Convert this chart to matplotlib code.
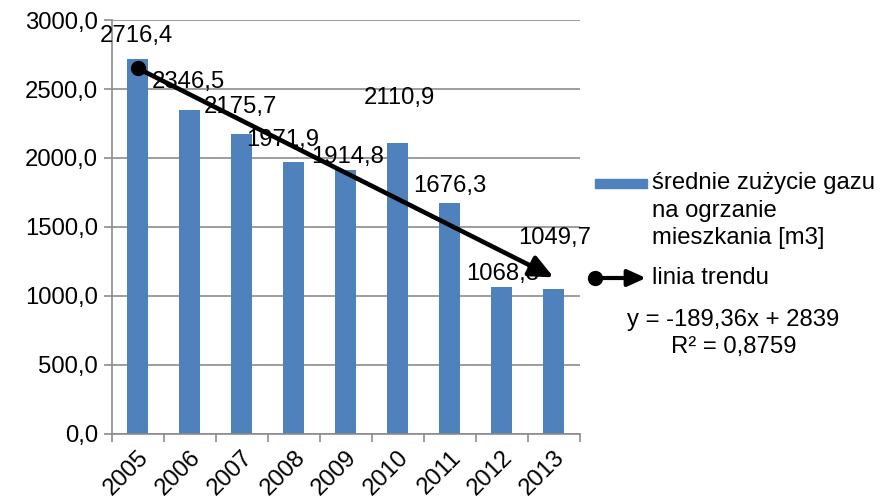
import matplotlib.pyplot as plt
from matplotlib.patches import Rectangle, FancyArrowPatch
from matplotlib.lines import Line2D

plt.rcParams['font.family'] = ['Liberation Sans', 'DejaVu Sans']

years = ['2005', '2006', '2007', '2008', '2009', '2010', '2011', '2012', '2013']
usage = [2716.4, 2346.5, 2175.7, 1971.9, 1914.8, 2110.9, 1676.3, 1068.3, 1049.7]
trend_slope = -189.36
trend_intercept = 2839
trend_r2 = 0.8759

# label offsets above bar tops (points), as placed in the original
label_dy = [17, 20, 19, 16, 9, 32, 12, 9, 37]
label_dx = [-1, -1, -1, -8, 1, 1, 0, 1, 1]

bar_color = '#4F81BD'
grid_color = '#8C8C8C'
fs = 17.2
arrow_style = '-|>,head_length=1.1,head_width=0.5'

fig = plt.figure(figsize=(8.81, 5.01), dpi=100)
ax = fig.add_axes([0.127, 0.134, 0.531, 0.826])

x = list(range(len(years)))
ax.bar(x, usage, width=0.4, color=bar_color, zorder=2)

for xi, v, dx, dy in zip(x, usage, label_dx, label_dy):
    ax.annotate(f'{v:.1f}'.replace('.', ','), (xi, v), xytext=(dx, dy),
                textcoords='offset points', ha='center', va='center',
                fontsize=fs, zorder=4)

# trend line (x = 1..9 in the Excel equation)
t0 = trend_slope * 1 + trend_intercept
t1 = trend_slope * len(years) + trend_intercept
ax.annotate('', xy=(x[-1], t1), xytext=(x[0], t0),
            arrowprops=dict(arrowstyle=arrow_style, color='black', lw=3.3,
                            shrinkA=0, shrinkB=0, mutation_scale=13),
            zorder=5)
ax.plot([x[0]], [t0], 'o', color='black', markersize=10, zorder=6)

ax.set_xlim(-0.5, len(years) - 0.5)
ax.set_ylim(0, 3000)
ax.set_yticks(range(0, 3001, 500))
ax.set_yticklabels([f'{v},0' for v in range(0, 3001, 500)], fontsize=fs)
ax.yaxis.grid(True, color=grid_color, lw=1.2, zorder=0)
ax.set_axisbelow(True)

ax.set_xticks([i - 0.5 for i in range(len(years) + 1)])
ax.set_xticklabels([])
ax.set_xticks(x, minor=True)
ax.set_xticklabels(years, minor=True, rotation=45, ha='right', va='top',
                   rotation_mode='anchor', fontsize=fs)
ax.tick_params(axis='x', which='major', length=6, color=grid_color, width=1.2)
ax.tick_params(axis='x', which='minor', length=0, pad=9)
ax.tick_params(axis='y', length=6, color=grid_color, width=1.2, pad=4)

for s in ['top', 'right']:
    ax.spines[s].set_visible(False)
for s in ['left', 'bottom']:
    ax.spines[s].set_color(grid_color)
    ax.spines[s].set_linewidth(1.2)


def fy(py):
    return 1 - py / 501


# legend drawn by hand
fig.add_artist(Rectangle((595 / 881, fy(188)), 52 / 881, 9 / 501,
                         transform=fig.transFigure, color=bar_color))
for line, py in zip(['średnie zużycie gazu', 'na ogrzanie', 'mieszkania [m3]'],
                    [183, 211, 238]):
    fig.text(652 / 881, fy(py), line, ha='left', va='center', fontsize=fs)
fig.add_artist(FancyArrowPatch(
    (595 / 881, fy(278)), (646 / 881, fy(278)),
    transform=fig.transFigure, arrowstyle=arrow_style,
    color='black', lw=3, shrinkA=0, shrinkB=0, mutation_scale=10))
fig.add_artist(Line2D([595 / 881], [fy(278)], marker='o', color='black',
                      markersize=10, transform=fig.transFigure))
fig.text(652 / 881, fy(278), 'linia trendu', ha='left', va='center', fontsize=fs)
fig.text(733 / 881, fy(320), f'y = {trend_slope}x + {trend_intercept}'.replace('.', ','),
         ha='center', va='center', fontsize=fs)
fig.text(734 / 881, fy(347), f'R² = {trend_r2}'.replace('.', ','),
         ha='center', va='center', fontsize=fs)

fig.savefig('out.png', dpi=100)
